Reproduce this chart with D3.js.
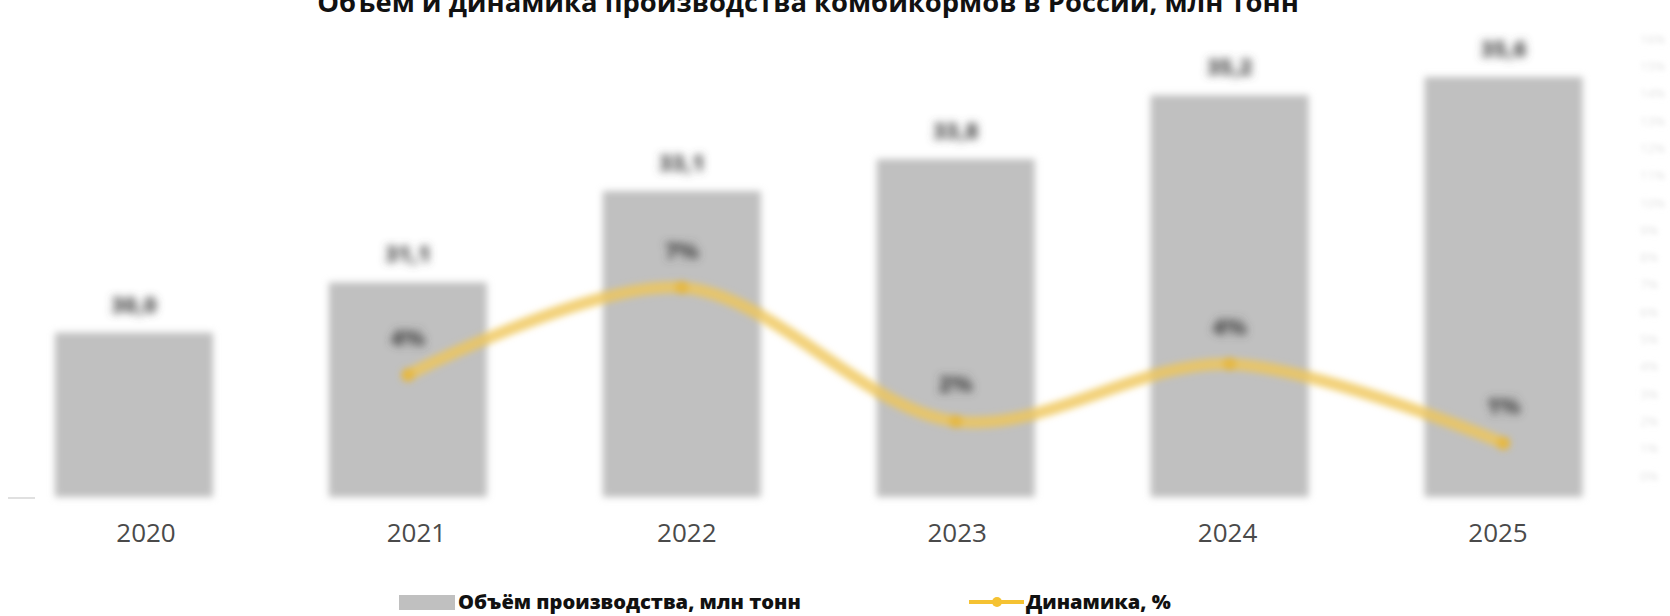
<!DOCTYPE html>
<html lang="ru">
<head>
<meta charset="utf-8">
<script src="https://cdn.jsdelivr.net/npm/d3@7"></script>
<style>
  html, body { margin: 0; padding: 0; background: #ffffff; }
  svg { display: block; }
</style>
</head>
<body>
<svg id="chart" width="1670" height="616"></svg>
<script>
// ---- data ----
const titleText = "Объем и динамика производства комбикормов в России, млн тонн";
const years = ["2020", "2021", "2022", "2023", "2024", "2025"];
const volume = [30.0, 31.1, 33.1, 33.8, 35.2, 35.6];          // млн тонн
const dynYears = ["2021", "2022", "2023", "2024", "2025"];
const dynamics = [3.7, 6.9, 2.0, 4.1, 1.2];                   // %
const rightTickValues = [0, 1, 2, 3, 4, 5, 6, 7, 8, 9, 10, 11, 12, 13, 14, 15, 16];
const legendLabels = ["Объём производства, млн тонн", "Динамика, %"];

// ---- setup ----
const W = 1670, H = 616;
const svg = d3.select("#chart");
const defs = svg.append("defs");
function blurFilter(id, sd) {
  defs.append("filter").attr("id", id)
    .attr("filterUnits", "userSpaceOnUse")
    .attr("x", 0).attr("y", 0).attr("width", W).attr("height", H)
    .append("feGaussianBlur").attr("stdDeviation", sd);
}
blurFilter("blurBar", 3.5);
blurFilter("blurLine", 3.2);
blurFilter("blurText", 4.2);
blurFilter("blurAxis", 2.4);

const barColor = "#c0c0c0";
const lineColor = "#efc657";

const x = d3.scaleBand().domain(years).range([-3, 1640.5]).paddingInner(0.423).paddingOuter(0.2115);
const xLab = d3.scaleBand().domain(years).range([10.8, 1633.2]);
const y = d3.scaleLinear().domain([26.4, 37.0]).range([497, 13]);
const y2 = d3.scaleLinear().domain([0, 16]).range([476, 39]);

const data = years.map((yr, i) => ({ year: yr, v: volume[i] }));
const dyn = dynYears.map((yr, i) => ({ year: yr, v: dynamics[i] }));

// ---- title ----
const title = svg.append("text")
  .attr("x", 808).attr("y", 12)
  .attr("text-anchor", "middle")
  .style("font-family", "'Open Sans', 'DejaVu Sans', sans-serif")
  .style("font-weight", 700)
  .style("font-size", "22px")
  .style("fill", "#111")
  .text(titleText);
{
  const len = title.node().getComputedTextLength();
  title.style("font-size", (22 * 982 / len).toFixed(2) + "px");
}

// ---- left baseline tick ----
svg.append("line").attr("x1", 8).attr("x2", 35).attr("y1", y.range()[0] + 1).attr("y2", y.range()[0] + 1)
  .attr("stroke", "#d6d6d6").attr("stroke-width", 1.5);

// ---- bars ----
svg.append("g").attr("filter", "url(#blurBar)")
  .selectAll("rect").data(data).join("rect")
  .attr("x", d => x(d.year))
  .attr("width", x.bandwidth())
  .attr("y", d => y(d.v))
  .attr("height", d => y(26.4) - y(d.v))
  .attr("fill", barColor);

// ---- bar value labels ----
const fmt = v => d3.format(".1f")(v).replace(".", ",");
svg.append("g").attr("filter", "url(#blurText)")
  .selectAll("text").data(data).join("text")
  .attr("x", d => x(d.year) + x.bandwidth() / 2)
  .attr("y", d => y(d.v) - 20)
  .attr("text-anchor", "middle")
  .style("font-family", "'Open Sans', sans-serif")
  .style("font-weight", 800)
  .style("font-size", "22px")
  .style("fill", "#555")
  .text(d => fmt(d.v));

// ---- right axis (very faint) ----
const rAxis = svg.append("g")
  .attr("transform", "translate(1634,0)")
  .attr("filter", "url(#blurAxis)")
  .call(d3.axisRight(y2).tickValues(rightTickValues).tickFormat(d => d + "%").tickSize(0).tickPadding(6));
rAxis.select(".domain").remove();
rAxis.selectAll("text")
  .style("font-family", "'Open Sans', sans-serif")
  .style("font-size", "13px")
  .style("fill", "#e4e4e4");

// ---- dynamics line ----
const line = d3.line()
  .x(d => x(d.year) + x.bandwidth() / 2)
  .y(d => y2(d.v))
  .curve(d3.curveCatmullRom.alpha(0.5));
const lg = svg.append("g").attr("filter", "url(#blurLine)");
lg.append("path").datum(dyn)
  .attr("d", line)
  .attr("fill", "none")
  .attr("stroke", lineColor)
  .attr("stroke-width", 12)
  .attr("stroke-opacity", 0.8)
  .attr("stroke-linecap", "round");
lg.selectAll("circle").data(dyn).join("circle")
  .attr("cx", d => x(d.year) + x.bandwidth() / 2)
  .attr("cy", d => y2(d.v))
  .attr("r", 7)
  .attr("fill", "#e6b43a")
  .attr("fill-opacity", 0.75);

// ---- dynamics labels ----
svg.append("g").attr("filter", "url(#blurText)")
  .selectAll("text").data(dyn).join("text")
  .attr("x", d => x(d.year) + x.bandwidth() / 2)
  .attr("y", d => y2(d.v) - 29)
  .attr("text-anchor", "middle")
  .style("font-family", "'Open Sans', sans-serif")
  .style("font-weight", 800)
  .style("font-size", "22px")
  .style("fill", "#4a4a4a")
  .text(d => Math.round(d.v) + "%");

// ---- x axis labels ----
const xAxis = svg.append("g")
  .attr("transform", "translate(0,520)")
  .call(d3.axisBottom(xLab).tickSize(0).tickPadding(0));
xAxis.select(".domain").remove();
xAxis.selectAll("text")
  .attr("dy", "0")
  .attr("y", 22)
  .style("font-family", "'Open Sans', sans-serif")
  .style("font-size", "26px")
  .style("fill", "#4a4a4a");

// ---- legend ----
const leg = svg.append("g");
leg.append("rect").attr("x", 399).attr("y", 595).attr("width", 56).attr("height", 15).attr("fill", barColor);
const t1 = leg.append("text").attr("x", 458).attr("y", 609)
  .style("font-family", "'Open Sans', sans-serif").style("font-weight", 800)
  .style("font-size", "20px").style("fill", "#111").text(legendLabels[0]);
let legendSize = 20;
{
  const len = t1.node().getComputedTextLength();
  legendSize = 20 * 343 / len;
  t1.style("font-size", legendSize.toFixed(2) + "px");
}
leg.append("line").attr("x1", 969).attr("x2", 1024).attr("y1", 602).attr("y2", 602)
  .attr("stroke", "#f5c232").attr("stroke-width", 4);
leg.append("circle").attr("cx", 997).attr("cy", 602).attr("r", 5).attr("fill", "#f5c232");
leg.append("text").attr("x", 1026).attr("y", 609)
  .style("font-family", "'Open Sans', sans-serif").style("font-weight", 800)
  .style("font-size", legendSize.toFixed(2) + "px").style("fill", "#111").text(legendLabels[1]);
</script>
</body>
</html>
